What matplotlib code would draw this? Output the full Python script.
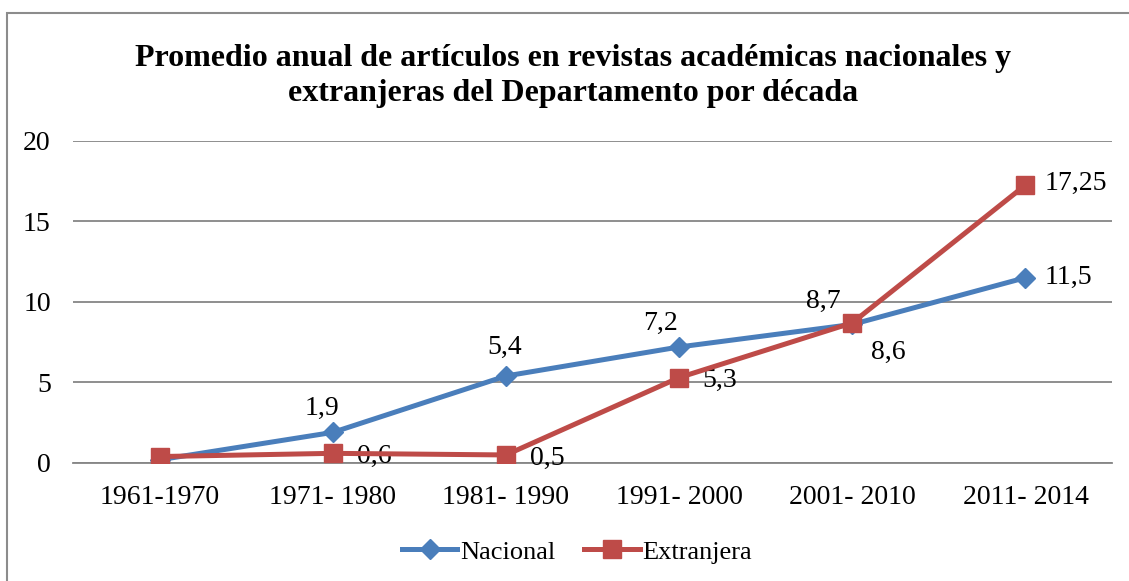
import matplotlib.pyplot as plt
from matplotlib.patches import Rectangle

plt.rcParams["font.family"] = ["Liberation Serif", "DejaVu Serif"]

decades = ["1961-1970", "1971- 1980", "1981- 1990", "1991- 2000", "2001- 2010", "2011- 2014"]
nacional = [0.2, 1.9, 5.4, 7.2, 8.6, 11.5]
extranjera = [0.4, 0.6, 0.5, 5.3, 8.7, 17.25]
nacional_labels = [None, "1,9", "5,4", "7,2", "8,6", "11,5"]
extranjera_labels = [None, "0,6", "0,5", "5,3", "8,7", "17,25"]

# label offsets in pixels (dx, dy), y up
nac_off = [None, (-11, 24), (-1, 29), (-19, 24), (36, -28), (43, 0)]
ext_off = [None, (42, -3), (41, -3), (41, -3), (-29, 21), (50, 2)]

BLUE = "#4A7EBB"
RED = "#BE4B48"
GRID = "#868686"

fig = plt.figure(figsize=(11.29, 5.81), dpi=100)
ax = fig.add_axes([0.0647, 0.2031, 0.9203, 0.5547])

x = list(range(len(decades)))
ax.plot(x, nacional, color=BLUE, lw=3.6, marker="D", ms=10, label="Nacional", zorder=3)
ax.plot(x, extranjera, color=RED, lw=3.6, marker="s", ms=13.5, label="Extranjera", zorder=4)

for i, lab in enumerate(nacional_labels):
    if lab:
        dx, dy = nac_off[i]
        ax.annotate(lab, (x[i], nacional[i]), xytext=(dx, dy), textcoords="offset pixels",
                    ha="center", va="center", fontsize=20)
for i, lab in enumerate(extranjera_labels):
    if lab:
        dx, dy = ext_off[i]
        ax.annotate(lab, (x[i], extranjera[i]), xytext=(dx, dy), textcoords="offset pixels",
                    ha="center", va="center", fontsize=20)

ax.set_xlim(-0.5, len(decades) - 0.5)
ax.set_ylim(0, 20)
ax.set_yticks([0, 5, 10, 15, 20])
ax.set_xticks(x)
ax.set_xticklabels(decades)
ax.tick_params(axis="both", length=0, labelsize=20)
ax.tick_params(axis="x", pad=16)
ax.tick_params(axis="y", pad=16)
ax.yaxis.grid(True, color=GRID, lw=1.3)
ax.set_axisbelow(True)
for s in ["left", "right", "top"]:
    ax.spines[s].set_visible(False)
ax.spines["bottom"].set_color(GRID)
ax.spines["bottom"].set_linewidth(1.3)

fig.suptitle("Promedio anual de artículos en revistas académicas nacionales y\n"
             "extranjeras del Departamento por década",
             x=0.508, y=0.925, fontsize=23, fontweight="bold", linespacing=1.3)

fig.legend(loc="center", bbox_to_anchor=(0.511, 0.05), ncol=2, frameon=False,
           fontsize=19, handlelength=2.1, handletextpad=0.1, columnspacing=1.1)

# outer frame
fig.patches.append(Rectangle((7 / 1129, -0.1), 1.2, 1 - 13 / 581 + 0.1,
                             transform=fig.transFigure, fill=False,
                             edgecolor="#8C8C8C", lw=1.5))

fig.savefig("out.png", dpi=100)
